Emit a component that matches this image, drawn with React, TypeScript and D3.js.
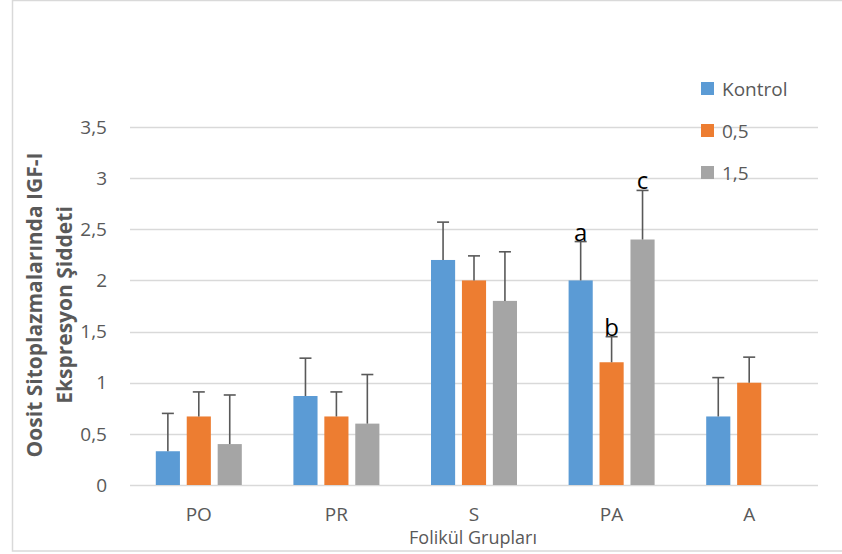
import React, { useEffect, useRef } from 'react';
import * as d3 from 'd3';

// Değerler
const categories = ['PO', 'PR', 'S', 'PA', 'A'];
const seriesNames = ['Kontrol', '0,5', '1,5'];
const seriesColors = ['#5b9bd5', '#ed7d31', '#a5a5a5'];
const kontrolValues = [0.33, 0.87, 2.2, 2.0, 0.67];
const dose05Values = [0.67, 0.67, 2.0, 1.2, 1.0];
const dose15Values = [0.4, 0.6, 1.8, 2.4, 0];
const kontrolErrors = [0.37, 0.37, 0.37, 0.38, 0.38];
const dose05Errors = [0.24, 0.24, 0.24, 0.25, 0.25];
const dose15Errors = [0.48, 0.48, 0.48, 0.48, 0];
const yTicks = [0, 0.5, 1, 1.5, 2, 2.5, 3, 3.5];
// harfler: [kategori, seri, metin]
const letters: [string, number, string][] = [
  ['PA', 0, 'a'],
  ['PA', 1, 'b'],
  ['PA', 2, 'c'],
];

const App = () => {
  const svgRef = useRef<SVGSVGElement>(null);

  useEffect(() => {
    const svg = d3.select(svgRef.current);
    svg.selectAll('*').remove();

    const width = 842;
    const height = 554;
    const font = "'Open Sans', 'DejaVu Sans', sans-serif";
    const textColor = '#595959';

    // çerçeve
    svg.append('rect')
      .attr('x', 12.5).attr('y', 0.5)
      .attr('width', 840).attr('height', 550.5)
      .attr('fill', 'white')
      .attr('stroke', '#d9d9d9')
      .attr('stroke-width', 1.5);

    const left = 130, right = 818, top = 127, bottom = 485;

    const x = d3.scaleBand().domain(categories).range([left, right]);
    const y = d3.scaleLinear().domain([0, 3.5]).range([bottom, top]);

    const inner = d3.scaleBand()
      .domain(seriesNames)
      .range([x.bandwidth() / 2 - 43, x.bandwidth() / 2 + 43])
      .paddingInner(0.22);

    // ızgara çizgileri
    svg.append('g')
      .selectAll('line')
      .data(yTicks)
      .enter().append('line')
      .attr('x1', left).attr('x2', right)
      .attr('y1', d => Math.round(y(d)) + 0.5)
      .attr('y2', d => Math.round(y(d)) + 0.5)
      .attr('stroke', '#d9d9d9')
      .attr('stroke-width', 1.3);

    // y ekseni etiketleri
    svg.append('g')
      .selectAll('text')
      .data(yTicks)
      .enter().append('text')
      .attr('x', 107)
      .attr('y', d => y(d))
      .attr('dy', '0.35em')
      .attr('text-anchor', 'end')
      .style('font-family', font)
      .style('font-size', '19px')
      .style('fill', textColor)
      .text(d => String(d).replace('.', ','));

    const values = [kontrolValues, dose05Values, dose15Values];
    const errors = [kontrolErrors, dose05Errors, dose15Errors];

    const rows = categories.flatMap((c, i) =>
      seriesNames.map((s, j) => ({ c, s, j, v: values[j][i], e: errors[j][i] })));

    // çubuklar
    svg.append('g')
      .selectAll('rect')
      .data(rows.filter(d => d.v > 0))
      .enter().append('rect')
      .attr('x', d => x(d.c)! + inner(d.s)!)
      .attr('y', d => y(d.v))
      .attr('width', inner.bandwidth())
      .attr('height', d => y(0) - y(d.v))
      .attr('fill', d => seriesColors[d.j]);

    // hata çubukları
    const err = svg.append('g')
      .selectAll('g')
      .data(rows.filter(d => d.e > 0))
      .enter().append('g')
      .attr('stroke', '#595959')
      .attr('stroke-width', 1.6);

    const cx = d => x(d.c)! + inner(d.s)! + inner.bandwidth() / 2;
    err.append('line')
      .attr('x1', cx).attr('x2', cx)
      .attr('y1', d => y(d.v))
      .attr('y2', d => y(d.v + d.e));
    err.append('line')
      .attr('x1', d => cx(d) - 6).attr('x2', d => cx(d) + 6)
      .attr('y1', d => y(d.v + d.e))
      .attr('y2', d => y(d.v + d.e));

    // harfler
    svg.append('g')
      .selectAll('text')
      .data(letters)
      .enter().append('text')
      .attr('x', d => x(d[0])! + inner(seriesNames[d[1]])! + inner.bandwidth() / 2)
      .attr('y', d => {
        const i = categories.indexOf(d[0]);
        return y(values[d[1]][i] + errors[d[1]][i]) - 1;
      })
      .attr('text-anchor', 'middle')
      .style('font-family', font)
      .style('font-size', '24px')
      .style('fill', 'black')
      .text(d => d[2]);

    // x ekseni etiketleri
    svg.append('g')
      .selectAll('text')
      .data(categories)
      .enter().append('text')
      .attr('x', d => x(d)! + x.bandwidth() / 2)
      .attr('y', 521)
      .attr('text-anchor', 'middle')
      .style('font-family', font)
      .style('font-size', '19px')
      .style('fill', textColor)
      .text(d => d);

    svg.append('text')
      .attr('x', 473)
      .attr('y', 544)
      .attr('text-anchor', 'middle')
      .style('font-family', font)
      .style('font-size', '18px')
      .style('fill', textColor)
      .text('Folikül Grupları');

    // y ekseni başlığı
    const yTitle = svg.append('text')
      .attr('transform', 'translate(0,305) rotate(-90)')
      .attr('text-anchor', 'middle')
      .style('font-family', font)
      .style('font-size', '21px')
      .style('font-weight', 'bold')
      .style('fill', textColor);
    yTitle.append('tspan').attr('x', 0).attr('y', 35).attr('dy', '0.35em')
      .text('Oosit Sitoplazmalarında IGF-I');
    yTitle.append('tspan').attr('x', 0).attr('y', 65).attr('dy', '0.35em')
      .text('Ekspresyon Şiddeti');

    // lejant
    const legend = svg.append('g')
      .selectAll('g')
      .data(seriesNames)
      .enter().append('g')
      .attr('transform', (d, i) => `translate(701,${89 + i * 42})`);

    legend.append('rect')
      .attr('x', 0).attr('y', -7)
      .attr('width', 13).attr('height', 13)
      .attr('fill', (d, i) => seriesColors[i]);

    legend.append('text')
      .attr('x', 21)
      .attr('y', 0)
      .attr('dy', '0.35em')
      .style('font-family', font)
      .style('font-size', '19px')
      .style('fill', textColor)
      .text(d => d);

    svg.attr('width', width).attr('height', height);
  }, []);

  return (
    <svg ref={svgRef} style={{ position: 'absolute', left: 0, top: 0 }}></svg>
  );
};

export default App;
